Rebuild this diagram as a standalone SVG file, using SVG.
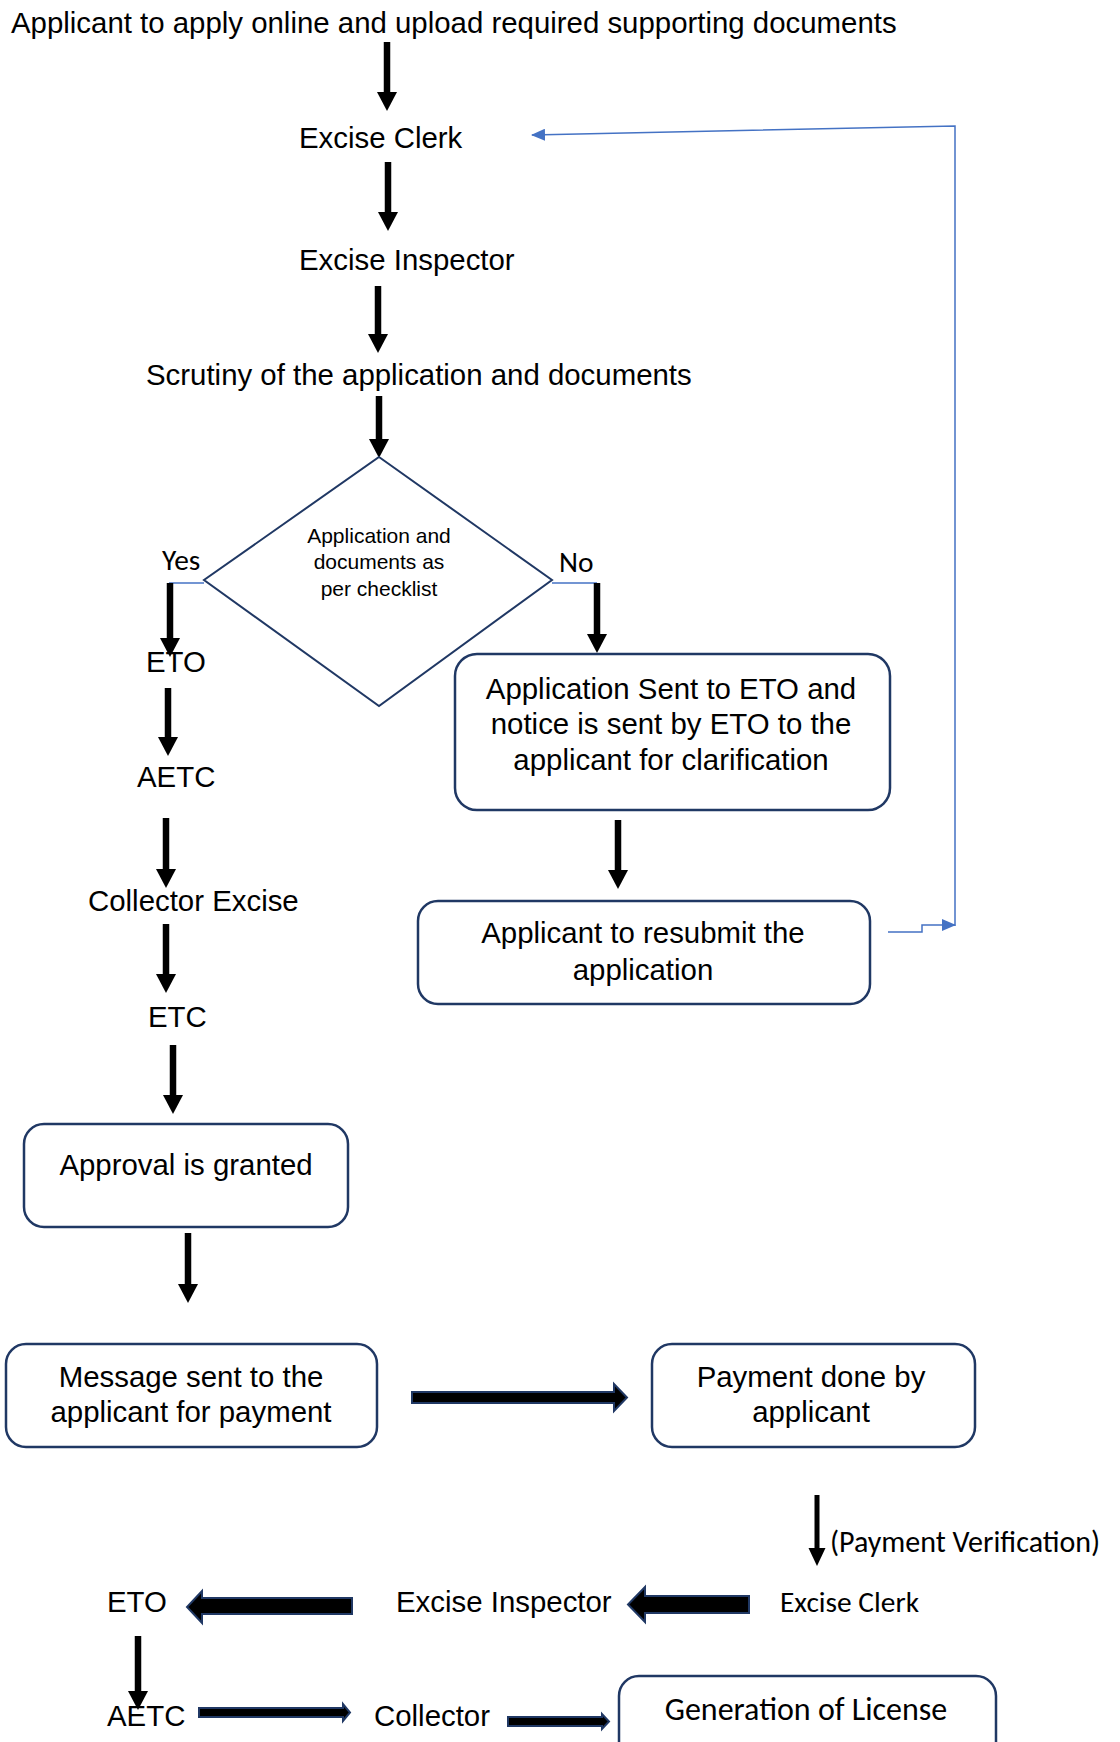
<svg xmlns="http://www.w3.org/2000/svg" width="1120" height="1742" viewBox="0 0 1120 1742">
<style>
.a{font-family:"Liberation Sans",Arial,sans-serif;font-size:29.4px;fill:#000}
.c{font-family:Carlito,Lato,"Open Sans",sans-serif;font-size:29.4px;fill:#000}
.d{font-family:"Liberation Sans",Arial,sans-serif;font-size:21px;fill:#000}
.m{text-anchor:middle}
.box{fill:#fff;stroke:#203864;stroke-width:2.5}
.dia{fill:#fff;stroke:#203864;stroke-width:2}
.arr{stroke:#000;stroke-width:6.5;fill:none;marker-end:url(#ah)}
.arr2{stroke:#000;stroke-width:5;fill:none;marker-end:url(#ah2)}
.blue{stroke:#4472C4;stroke-width:1.5;fill:none}
.blk{fill:#000;stroke:#203864;stroke-width:2}
</style>
<defs>
<marker id="ah" markerUnits="userSpaceOnUse" markerWidth="20" markerHeight="20" refX="0" refY="10" orient="auto" viewBox="0 0 19 20"><path d="M0,0 L19,10 L0,20 Z" fill="#000"/></marker>
<marker id="ah2" markerUnits="userSpaceOnUse" markerWidth="18" markerHeight="18" refX="0" refY="8.5" orient="auto" viewBox="0 0 18 17"><path d="M0,0 L18,8.5 L0,17 Z" fill="#000"/></marker>
<marker id="bh" markerUnits="userSpaceOnUse" markerWidth="14" markerHeight="12" refX="13" refY="6" orient="auto" viewBox="0 0 14 12"><path d="M0,0 L14,6 L0,12 Z" fill="#4472C4"/></marker>
</defs>

<g id="connectors">
<path class="arr" d="M387,42 V92"/>
<path class="arr" d="M388,162 V212"/>
<path class="arr" d="M378,286 V334"/>
<path class="arr" d="M379,396 V439"/>
<path class="blue" d="M204,583 H169"/>
<path class="arr" d="M170,583 V638"/>
<path class="blue" d="M552,583 H597"/>
<path class="arr" d="M597,583 V634"/>
<path class="arr" d="M168,688 V737"/>
<path class="arr" d="M166,818 V869"/>
<path class="arr" d="M166,924 V974"/>
<path class="arr" d="M173,1045 V1095"/>
<path class="arr" d="M618,820 V870"/>
<path class="arr" d="M188,1233 V1284"/>
<path class="blue" d="M888,932 H922 V925 H955" marker-end="url(#bh)"/>
<path class="blue" d="M955,926 V126 L532,135" marker-end="url(#bh)"/>
<polygon class="blk" points="412,1392 614,1392 614,1384 627,1397.5 614,1411 614,1403 412,1403"/>
<path class="arr2" d="M817,1495 V1548"/>
<polygon class="blk" points="352,1598 202,1598 202,1591 187,1607 202,1623 202,1614 352,1614"/>
<polygon class="blk" points="749,1596 645,1596 645,1587 628,1604.5 645,1622 645,1613 749,1613"/>
<path class="arr" d="M138,1636 V1691"/>
<polygon class="blk" points="199,1708 343,1708 343,1704 350,1712.5 343,1721 343,1717 199,1717"/>
<polygon class="blk" points="508,1717 602,1717 602,1714 609,1721.5 602,1729 602,1726 508,1726"/>
</g>

<g id="n-start"><text class="a" x="11" y="33">Applicant to apply online and upload required supporting documents</text></g>
<g id="n-clerk"><text class="a" x="299" y="148">Excise Clerk</text></g>
<g id="n-inspector"><text class="a" x="299" y="270">Excise Inspector</text></g>
<g id="n-scrutiny"><text class="a" x="146" y="385">Scrutiny of the application and documents</text></g>
<g id="n-decision">
<polygon class="dia" points="379,457 552,580 379,706 204,580"/>
<text class="d m" x="379" y="543">Application and</text>
<text class="d m" x="379" y="569">documents as</text>
<text class="d m" x="379" y="596">per checklist</text>
</g>
<g id="l-yes"><text class="c" x="162" y="570">Yes</text></g>
<g id="l-no"><text class="c" x="559" y="572">No</text></g>
<g id="n-eto"><text class="a" x="146" y="672">ETO</text></g>
<g id="n-aetc"><text class="a" x="137" y="787">AETC</text></g>
<g id="n-collector"><text class="a" x="88" y="911">Collector Excise</text></g>
<g id="n-etc"><text class="a" x="148" y="1027">ETC</text></g>
<g id="n-approval">
<rect class="box" x="24" y="1124" width="324" height="103" rx="20"/>
<text class="a m" x="186" y="1175">Approval is granted</text>
</g>
<g id="n-notice">
<rect class="box" x="455" y="654" width="435" height="156" rx="22"/>
<text class="a m" x="671" y="699">Application Sent to ETO and</text>
<text class="a m" x="671" y="734">notice is sent by ETO to the</text>
<text class="a m" x="671" y="770">applicant for clarification</text>
</g>
<g id="n-resubmit">
<rect class="box" x="418" y="901" width="452" height="103" rx="20"/>
<text class="a m" x="643" y="943">Applicant to resubmit the</text>
<text class="a m" x="643" y="980">application</text>
</g>
<g id="n-message">
<rect class="box" x="6" y="1344" width="371" height="103" rx="20"/>
<text class="a m" x="191" y="1387">Message sent to the</text>
<text class="a m" x="191" y="1422">applicant for payment</text>
</g>
<g id="n-payment">
<rect class="box" x="652" y="1344" width="323" height="103" rx="20"/>
<text class="a m" x="811" y="1387">Payment done by</text>
<text class="a m" x="811" y="1422">applicant</text>
</g>
<g id="l-verif"><text class="c" x="830" y="1552" style="font-size:30px">(Payment Verification)</text></g>
<g id="n-clerk2"><text class="c" x="780" y="1612">Excise Clerk</text></g>
<g id="n-inspector2"><text class="a" x="396" y="1612">Excise Inspector</text></g>
<g id="n-eto2"><text class="a" x="107" y="1612">ETO</text></g>
<g id="n-aetc2"><text class="a" x="107" y="1726">AETC</text></g>
<g id="n-collector2"><text class="a" x="374" y="1726">Collector</text></g>
<g id="n-license">
<rect class="box" x="619" y="1676" width="377" height="110" rx="20"/>
<text class="c m" x="806" y="1720" style="font-size:32px">Generation of License</text>
</g>
</svg>
